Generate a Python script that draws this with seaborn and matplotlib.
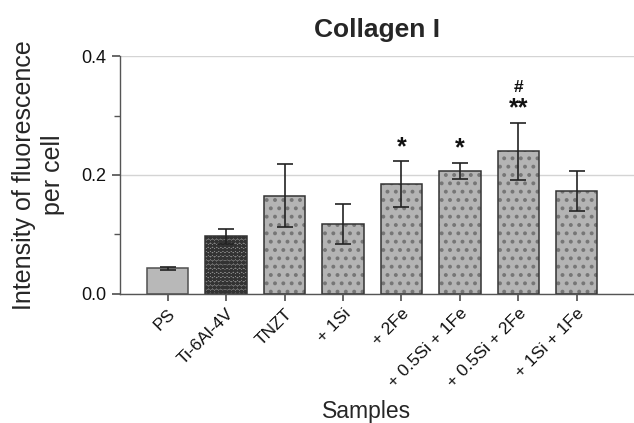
import numpy as np
import pandas as pd
import matplotlib
matplotlib.use("Agg")
import matplotlib.pyplot as plt
import seaborn as sns

samples = ["PS", "Ti-6Al-4V", "TNZT", "+ 1Si", "+ 2Fe",
           "+ 0.5Si + 1Fe", "+ 0.5Si + 2Fe", "+ 1Si + 1Fe"]
intensity = [0.043, 0.097, 0.165, 0.118, 0.185, 0.207, 0.240, 0.173]
std_err = [0.003, 0.013, 0.053, 0.034, 0.038, 0.013, 0.048, 0.033]
significance = ["", "", "", "", "*", "*", "**", ""]
significance_tnzt = ["", "", "", "", "", "", "#", ""]

sns.set_theme(style="white")
plt.rcParams["font.family"] = ["Liberation Sans", "DejaVu Sans"]
plt.rcParams["hatch.linewidth"] = 1.6

df = pd.DataFrame({"Samples": samples, "Intensity": intensity})

fig = plt.figure(figsize=(6.34, 4.23), dpi=100)
ax = fig.add_axes([0.189, 0.305, 0.811, 0.5626])

sns.barplot(data=df, x="Samples", y="Intensity", ax=ax, width=0.71,
            color="#b2b2b2", edgecolor="#333333", linewidth=1.1,
            saturation=1, errorbar=None, zorder=2)

bars = ax.patches
for i, bar in enumerate(bars):
    if i == 0:
        bar.set_facecolor("#b8b8b8")
        bar.set_edgecolor("#505050")
    elif i == 1:
        bar.set_facecolor("#8a8a8a")
        bar.set_hatch("oooo")
        bar._hatch_color = matplotlib.colors.to_rgba("#333333")
    else:
        bar.set_facecolor("#b4b4b4")
        bar.set_hatch("..")
        bar._hatch_color = matplotlib.colors.to_rgba("#767676")

x = np.arange(len(samples))
ax.errorbar(x, intensity, yerr=std_err, fmt="none", ecolor="#222222",
            elinewidth=1.2, capsize=6, capthick=1.2, zorder=3)

# significance marks above the error bars
star_texts = {}
for xi, m, e, s in zip(x, intensity, std_err, significance):
    if s:
        star_texts[xi] = ax.text(xi, m + e + 0.004, s, ha="center",
                                 va="bottom", fontsize=18,
                                 fontweight="bold", color="#111111")
hash_texts = {}
for xi, m, e, s in zip(x, intensity, std_err, significance_tnzt):
    if s:
        hash_texts[xi] = ax.text(xi, m + e + 0.043, s, ha="center",
                                 va="bottom", fontsize=12.5,
                                 fontweight="bold", color="#111111")

ax.set_ylim(0, 0.4)
ax.set_xlim(-0.82, 7.98)
ax.set_yticks([0.0, 0.2, 0.4])
ax.set_yticks([0.1, 0.3], minor=True)
ax.yaxis.grid(True, which="major", color="#d4d4d4", linewidth=1.0, zorder=0)
ax.set_axisbelow(True)

for side in ["top", "right"]:
    ax.spines[side].set_visible(False)
for side in ["left", "bottom"]:
    ax.spines[side].set_color("#555555")
    ax.spines[side].set_linewidth(1.0)

ax.tick_params(axis="y", which="both", left=True, direction="out",
               colors="#555555", labelcolor="#111111", labelsize=13)
ax.tick_params(axis="y", which="major", length=6)
ax.tick_params(axis="y", which="minor", length=4)
ax.tick_params(axis="x", bottom=True, direction="out", length=5,
               colors="#555555", labelcolor="#111111", labelsize=12.5)
ax.set_xticks(x)
ax.set_xticklabels(samples, rotation=45, ha="right", rotation_mode="anchor")

ax.set_title("Collagen I", fontsize=19, fontweight="bold", pad=14)
ax.set_ylabel("Intensity of fluorescence\nper cell", fontsize=18,
              linespacing=1.25, labelpad=12)
ax.set_xlabel("Samples", fontsize=16.5)
ax.xaxis.set_label_coords(0.48, -0.445)

# keep the "#" clear of the stars below it
fig.canvas.draw()
renderer = fig.canvas.get_renderer()
inv = ax.transData.inverted()
for xi, ht in hash_texts.items():
    if xi in star_texts:
        top_star = star_texts[xi].get_window_extent(renderer).y1
        bottom_hash = ht.get_window_extent(renderer).y0
        if bottom_hash < top_star + 1:
            shift = top_star + 1 - bottom_hash
            y0 = inv.transform((0, bottom_hash))[1]
            y1 = inv.transform((0, bottom_hash + shift))[1]
            ht.set_y(ht.get_position()[1] + (y1 - y0))

fig.savefig("out.png", dpi=100)
